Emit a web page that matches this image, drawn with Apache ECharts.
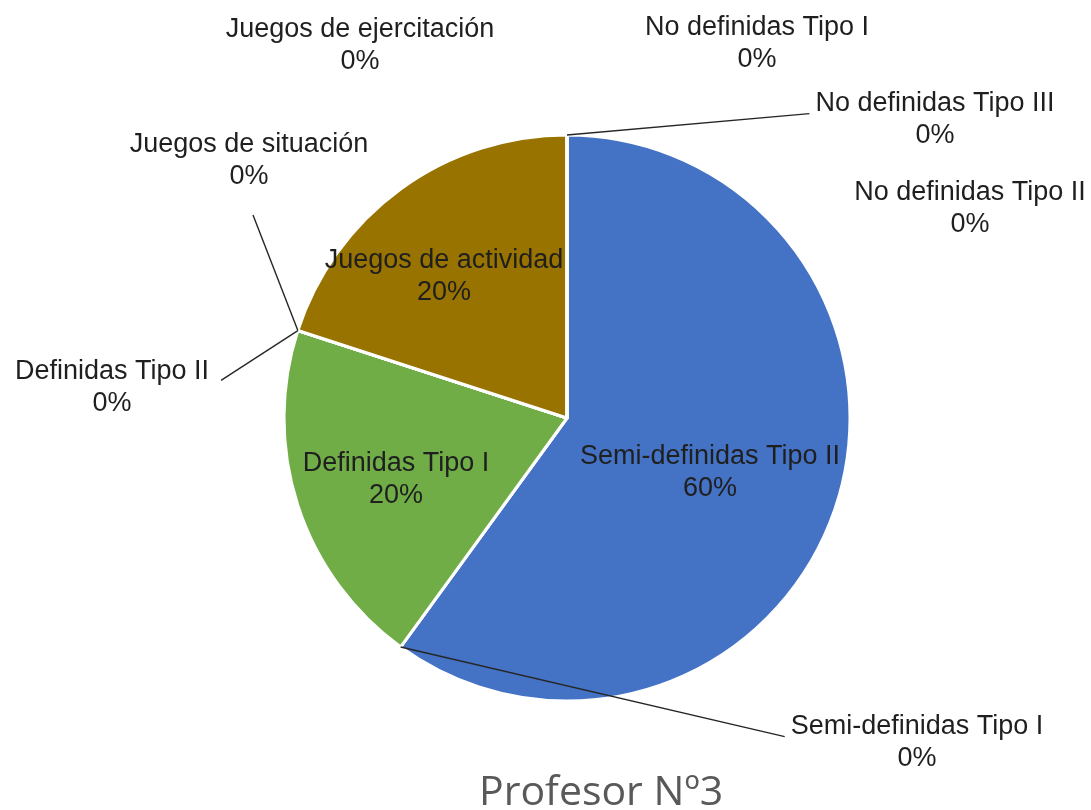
<!DOCTYPE html>
<html>
<head>
<meta charset="utf-8">
<script src="https://cdn.jsdelivr.net/npm/echarts@6/dist/echarts.min.js"></script>
<style>
  html, body { margin: 0; padding: 0; background: #fff; }
  #chart { width: 1091px; height: 810px; }
</style>
</head>
<body>
<div id="chart"></div>
<script>
// slices, clockwise from 12 o'clock
const categories = [
  'Semi-definidas Tipo II',
  'Semi-definidas Tipo I',
  'Definidas Tipo I',
  'Definidas Tipo II',
  'Juegos de situación',
  'Juegos de ejercitación',
  'Juegos de actividad',
  'No definidas Tipo I',
  'No definidas Tipo III',
  'No definidas Tipo II'
]
const values = [3, 0, 1, 0, 0, 0, 1, 0, 0, 0]
const titleText = 'Profesor Nº3'

const sliceColors = ['#4472C4', '#4472C4', '#70AD47', '#70AD47', '#70AD47',
  '#997300', '#997300', '#997300', '#4472C4', '#4472C4']

const pieCenter = [567, 418]
const pieRadius = 283

// where each label sits, and which side its leader line goes to
const labelPlace = {
  'Semi-definidas Tipo II': { x: 710, y: 473 },
  'Semi-definidas Tipo I': { x: 917, y: 743, line: 'left' },
  'Definidas Tipo I': { x: 396, y: 480 },
  'Definidas Tipo II': { x: 112, y: 388, line: 'right' },
  'Juegos de situación': { x: 249, y: 161, line: 'bottom' },
  'Juegos de ejercitación': { x: 360, y: 46 },
  'Juegos de actividad': { x: 444, y: 277 },
  'No definidas Tipo I': { x: 757, y: 44 },
  'No definidas Tipo III': { x: 935, y: 120, line: 'left' },
  'No definidas Tipo II': { x: 970, y: 209 }
}

const labelFont = {
  formatter: '{b}\n{d}%',
  fontFamily: 'Liberation Sans, Arial, sans-serif',
  fontSize: 27,
  lineHeight: 32,
  color: '#1f1f1f',
  align: 'center'
}

// outer tip of a zero-width slice = corner of its box farthest from the centre
function sliceTip(rect) {
  const xs = [rect.x, rect.x + rect.width]
  const ys = [rect.y, rect.y + rect.height]
  let best = null
  let bestD = -1
  xs.forEach(function (x) {
    ys.forEach(function (y) {
      const d = Math.pow(x - pieCenter[0], 2) + Math.pow(y - pieCenter[1], 2)
      if (d > bestD) { bestD = d; best = [x, y] }
    })
  })
  return best
}

function placeLabel(params) {
  const p = labelPlace[categories[params.dataIndex]]
  const res = { x: p.x, y: p.y, align: 'center', verticalAlign: 'middle' }
  if (p.line) {
    const w = params.labelRect.width
    const h = params.labelRect.height
    const left = p.x - w / 2
    const top = p.y - h / 2
    let end
    if (p.line === 'left') end = [left - 6, top + h * 0.4]
    else if (p.line === 'right') end = [left + w + 12, top + h * 0.38]
    else end = [p.x + 4, top + h + 22]
    res.labelLinePoints = [sliceTip(params.rect), end]
  }
  return res
}

// overlay = copy of the pie on top, only carrying the labels that have leader lines
function pieData(overlay) {
  return categories.map(function (name, i) {
    const hasLine = !!labelPlace[name].line
    return {
      name: name,
      value: values[i],
      label: {
        show: overlay ? hasLine : !hasLine,
        position: values[i] > 0 ? 'inside' : 'outside'
      },
      labelLine: { show: overlay && hasLine }
    }
  })
}

const chart = echarts.init(document.getElementById('chart'))

chart.setOption({
  animation: false,
  color: sliceColors,
  title: {
    text: titleText,
    left: 474,
    top: 768,
    textStyle: {
      fontFamily: 'Open Sans',
      fontWeight: 'normal',
      fontSize: 41,
      color: '#595959'
    }
  },
  series: [
    {
      type: 'pie',
      z: 2,
      center: pieCenter,
      radius: pieRadius,
      startAngle: 90,
      clockwise: true,
      avoidLabelOverlap: false,
      itemStyle: { borderColor: '#fff', borderWidth: 3 },
      label: labelFont,
      labelLayout: placeLabel,
      data: pieData(false)
    },
    {
      type: 'pie',
      z: 5,
      silent: true,
      center: pieCenter,
      radius: pieRadius,
      startAngle: 90,
      clockwise: true,
      avoidLabelOverlap: false,
      itemStyle: { color: 'rgba(0,0,0,0)', borderWidth: 0 },
      emphasis: { disabled: true },
      label: labelFont,
      labelLine: {
        maxSurfaceAngle: 180,
        minTurnAngle: 0,
        lineStyle: { color: '#262626', width: 1.4 }
      },
      labelLayout: placeLabel,
      data: pieData(true)
    }
  ]
})
</script>
</body>
</html>
